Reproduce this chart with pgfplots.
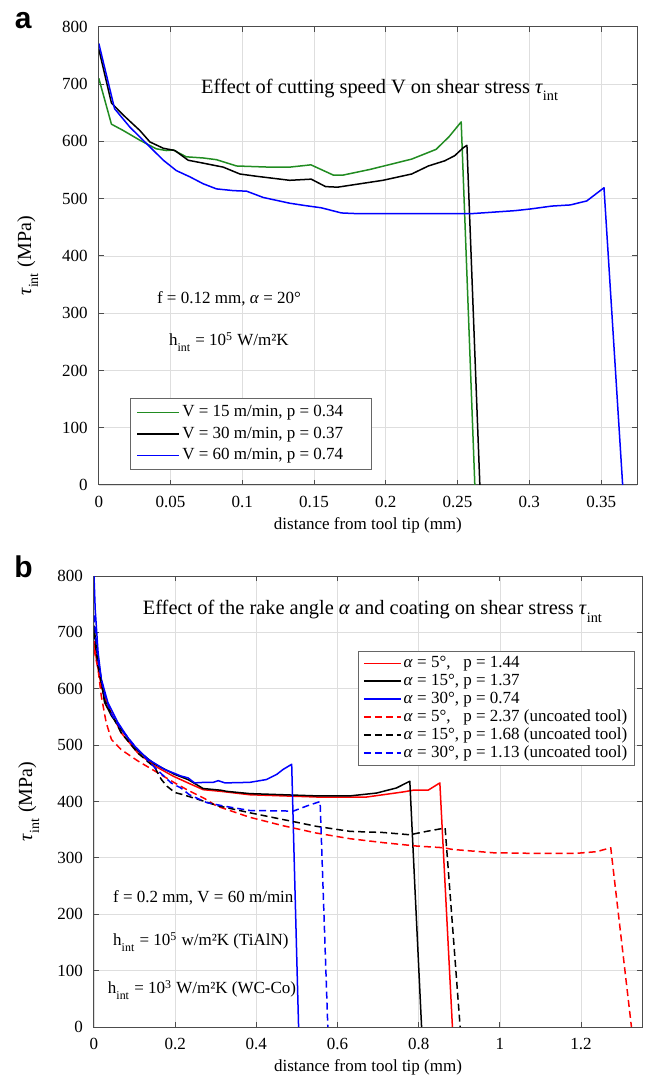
\documentclass[border=0pt]{standalone}
\usepackage{fontspec}
\setmainfont{Liberation Serif}
\newfontfamily\labelfont{Liberation Sans}
\usepackage{pgfplots}
\pgfplotsset{compat=1.18}

\definecolor{mgreen}{rgb}{0.13,0.55,0.13}
\newcommand{\lsub}[1]{\raisebox{-0.45ex}{\textsubscript{#1}}}
\newcommand{\pad}{\rule{10pt}{0pt}}

\pgfplotsset{
  mstyle/.style={
    scale only axis,
    anchor=south west,
    axis line style={black!70, line width=0.5pt},
    tick style={black!70, line width=0.5pt},
    major tick length=2.5pt,
    grid=major,
    grid style={black!13, line width=0.4pt},
    ymin=0, ymax=800,
    ytick={0,100,200,300,400,500,600,700,800},
    yticklabels={0,100,200,300,400,500,600,700,800},
    ticklabel style={font=\fontsize{8.5}{10}\selectfont},
    xticklabel style={yshift=-2pt},
    yticklabel style={xshift=-2pt},
    xlabel style={font=\fontsize{8.5}{10}\selectfont, anchor=center},
    ylabel style={font=\fontsize{10}{12}\selectfont, anchor=center},
    every axis plot/.append style={line width=0.75pt, line join=round},
    legend cell align=left,
  },
  dsh/.style={dash pattern=on 3.5pt off 2pt},
}

\begin{document}
\begin{tikzpicture}
\path[use as bounding box] (0pt,0pt) rectangle (322.5pt,538.5pt);

\node[font=\labelfont\bfseries\fontsize{15}{15}\selectfont] at (11.6pt,528pt) {a};
\node[font=\labelfont\bfseries\fontsize{15}{15}\selectfont] at (11.8pt,255.2pt) {b};

% panel a: cutting speed
\begin{axis}[mstyle,
  at={(49.4pt,296pt)}, width=269.1pt, height=229.1pt,
  xmin=0, xmax=0.375,
  xtick={0,0.05,0.1,0.15,0.2,0.25,0.3,0.35},
  xticklabels={0,0.05,0.1,0.15,0.2,0.25,0.3,0.35},
  xlabel={distance from tool tip (mm)},
  ylabel={\textit{τ}\lsub{int} (MPa)},
  xlabel style={at={(axis description cs:0.5,-0.087)}},
  ylabel style={at={(axis description cs:-0.132,0.5)}},
  legend image code/.code={\draw[mark repeat=2,mark phase=2,#1,line width=0.9pt]
    plot coordinates {(0pt,0pt) (10.5pt,0pt) (21pt,0pt)};},
  legend style={at={(axis cs:0.0218,152)}, anchor=north west,
    draw=black!60, fill=white, font=\fontsize{8.5}{9}\selectfont,
    row sep=1.6pt, inner xsep=3pt, inner ysep=2.5pt,
    nodes={inner sep=1pt}},
]
\addplot[mgreen] coordinates {
(0,710) (0.0088,630) (0.017,619) (0.0286,602) (0.040,587) (0.047,584)
(0.0518,585) (0.061,573) (0.0727,571) (0.082,568) (0.096,557) (0.119,555)
(0.133,555) (0.1478,559) (0.1635,541) (0.170,541) (0.189,551) (0.218,569)
(0.235,586) (0.244,608) (0.2525,634) (0.262,0)};
\addplot[black] coordinates {
(0,761) (0.0088,667) (0.017,646) (0.0286,619) (0.0356,599) (0.0449,588)
(0.053,584) (0.0623,567) (0.0727,562) (0.0867,555) (0.0983,543) (0.11,539)
(0.133,532) (0.148,534) (0.158,521) (0.1664,520) (0.198,532) (0.218,543)
(0.2296,557) (0.241,566) (0.248,575) (0.254,589) (0.2565,593) (0.2655,0)};
\addplot[blue] coordinates {
(0,771) (0.011,657) (0.0216,625) (0.0333,596) (0.045,567) (0.054,549)
(0.0635,538) (0.0727,526) (0.082,517) (0.0937,514) (0.103,513) (0.1146,502)
(0.133,492) (0.1434,488) (0.155,484) (0.169,475) (0.178,474) (0.24,474)
(0.261,474) (0.29,479) (0.301,482) (0.3156,487) (0.3286,489) (0.34,496)
(0.352,519) (0.365,0)};
\legend{{V = 15 m/min, p = 0.34\pad}, {V = 30 m/min, p = 0.37\pad}, {V = 60 m/min, p = 0.74\pad}}
\node[anchor=base, font=\fontsize{10.2}{12}\selectfont] at (axis cs:0.196,684)
  {Effect of cutting speed V on shear stress \textit{τ}\lsub{int}};
\node[anchor=base west, font=\fontsize{8.5}{10}\selectfont] at (axis cs:0.0357,317)
  {f = 0.12 mm, \textit{α} = 20°};
\node[anchor=base west, font=\fontsize{8.5}{10}\selectfont] at (axis cs:0.044,243)
  {h\lsub{int} = 10\textsuperscript{5} W/m²K};
\end{axis}

% panel b: rake angle and coating
\begin{axis}[mstyle,
  at={(47pt,25pt)}, width=274pt, height=225.5pt,
  xmin=0, xmax=1.35,
  xtick={0,0.2,0.4,0.6,0.8,1,1.2},
  xticklabels={0,0.2,0.4,0.6,0.8,1,1.2},
  xlabel={distance from tool tip (mm)},
  ylabel={\textit{τ}\lsub{int} (MPa)},
  xlabel style={at={(axis description cs:0.5,-0.089)}},
  ylabel style={at={(axis description cs:-0.119,0.5)}},
  legend image code/.code={\draw[mark repeat=2,mark phase=2,#1,line width=0.9pt]
    plot coordinates {(0pt,0pt) (9.25pt,0pt) (18.5pt,0pt)};},
  legend style={at={(axis cs:1.332,667)}, anchor=north east,
    draw=black!60, fill=white, font=\fontsize{8.5}{9}\selectfont,
    row sep=-0.3pt, inner xsep=2.5pt, inner ysep=1.5pt,
    nodes={inner sep=1pt}},
]
\addplot[red] coordinates {
(0,685) (0.006,652) (0.018,605) (0.034,570) (0.067,522) (0.108,486)
(0.15,463) (0.195,445) (0.2315,433) (0.269,421) (0.313,418) (0.384,412)
(0.548,408) (0.672,408) (0.762,417) (0.786,420) (0.823,420) (0.852,433)
(0.883,0)};
\addplot[black] coordinates {
(0,712) (0.006,670) (0.014,635) (0.026,576) (0.043,552) (0.067,528)
(0.108,490) (0.15,466) (0.199,448) (0.2315,439) (0.269,423) (0.313,420)
(0.327,418) (0.384,414) (0.466,412) (0.548,410) (0.631,410) (0.696,415)
(0.745,424) (0.778,436) (0.807,0)};
\addplot[blue] coordinates {
(0,800) (0.003,741) (0.010,665) (0.018,617) (0.034,576) (0.059,540)
(0.092,504) (0.133,475) (0.174,457) (0.215,445) (0.2315,442) (0.248,433)
(0.2726,434) (0.294,434) (0.306,437) (0.3227,433) (0.384,434) (0.425,439)
(0.45,448) (0.466,457) (0.487,466) (0.504,0)};
\addplot[red, dsh] coordinates {
(0,670) (0.010,635) (0.018,587) (0.030,540) (0.043,510) (0.067,492)
(0.108,472) (0.15,454) (0.199,433) (0.2315,420) (0.273,405) (0.302,392)
(0.384,372) (0.466,357) (0.548,344) (0.631,334) (0.713,327) (0.795,321)
(0.861,318) (0.883,315) (0.985,309) (1.086,308) (1.187,308) (1.238,311)
(1.273,318) (1.324,0)};
\addplot[black, dsh] coordinates {
(0,700) (0.010,640) (0.026,580) (0.043,555) (0.067,522) (0.108,486)
(0.15,460) (0.166,439) (0.18,427) (0.199,416) (0.22,412) (0.273,400)
(0.302,393) (0.384,380) (0.466,368) (0.548,356) (0.631,347) (0.713,345)
(0.778,341) (0.819,347) (0.865,353) (0.902,0)};
\addplot[blue, dsh] coordinates {
(0,730) (0.006,680) (0.012,640) (0.026,590) (0.043,555) (0.067,528)
(0.108,492) (0.15,460) (0.19,433) (0.214,424) (0.235,412) (0.278,398)
(0.319,392) (0.384,384) (0.491,383) (0.524,392) (0.557,400) (0.576,0)};
\legend{
{\textit{α} = 5°,\hphantom{1} p = 1.44},
{\textit{α} = 15°, p = 1.37},
{\textit{α} = 30°, p = 0.74},
{\textit{α} = 5°,\hphantom{1} p = 2.37 (uncoated tool)},
{\textit{α} = 15°, p = 1.68 (uncoated tool)},
{\textit{α} = 30°, p = 1.13 (uncoated tool)}}
\node[anchor=base, font=\fontsize{10.2}{12}\selectfont] at (axis cs:0.687,731)
  {Effect of the rake angle \textit{α} and coating on shear stress \textit{τ}\lsub{int}};
\node[anchor=base west, font=\fontsize{8.5}{10}\selectfont] at (axis cs:0.030,221)
  {f = 0.2 mm, V = 60 m/min};
\node[anchor=base west, font=\fontsize{8.5}{10}\selectfont] at (axis cs:0.030,144)
  {h\lsub{int} = 10\textsuperscript{5} w/m²K (TiAlN)};
\node[anchor=base west, font=\fontsize{8.5}{10}\selectfont] at (axis cs:0.017,59)
  {h\lsub{int} = 10\textsuperscript{3} W/m²K (WC-Co)};
\end{axis}
\end{tikzpicture}
\end{document}
